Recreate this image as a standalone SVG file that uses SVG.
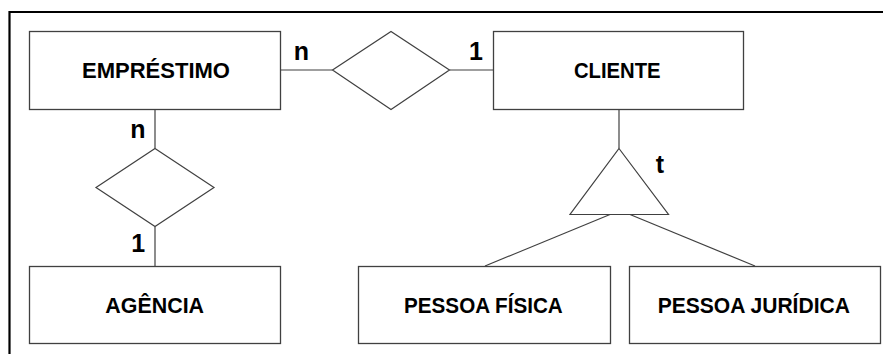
<svg xmlns="http://www.w3.org/2000/svg" width="883" height="354" viewBox="0 0 883 354">
<style>
.ent{fill:#fff;stroke:#404040;stroke-width:1.3}
.rel{fill:#fff;stroke:#404040;stroke-width:1.2}
.lbl{font-family:"Liberation Sans",Arial,sans-serif;font-weight:bold;font-size:22px;fill:#000;text-anchor:middle}
.card{font-family:"Liberation Sans",Arial,sans-serif;font-weight:bold;font-size:25px;fill:#000;text-anchor:middle}
.con{stroke:#404040;stroke-width:1.2;fill:none}
</style>
<rect x="0" y="0" width="883" height="354" fill="#fff"/>
<g id="frame">
<path d="M9.5 354 V12 H883" fill="none" stroke="#000" stroke-width="2.2"/>
</g>
<g id="connectors">
<line class="con" x1="280.5" y1="70" x2="332.5" y2="70"/>
<line class="con" x1="449.5" y1="70" x2="493.5" y2="70"/>
<line class="con" x1="155" y1="109.5" x2="155" y2="148.5"/>
<line class="con" x1="155" y1="226.5" x2="155" y2="266.5"/>
<line class="con" x1="619" y1="109.5" x2="619" y2="148.5"/>
<line class="con" x1="610" y1="214.5" x2="485" y2="266"/>
<line class="con" x1="630" y1="214.5" x2="755" y2="266"/>
</g>
<g id="emprestimo">
<rect class="ent" x="29.5" y="31.5" width="251" height="78"/>
<text class="lbl" x="156" y="78" textLength="148" lengthAdjust="spacingAndGlyphs">EMPRÉSTIMO</text>
</g>
<g id="cliente">
<rect class="ent" x="493.5" y="31.5" width="250" height="78"/>
<text class="lbl" x="617.3" y="78" textLength="86.7" lengthAdjust="spacingAndGlyphs">CLIENTE</text>
</g>
<g id="agencia">
<rect class="ent" x="29.5" y="266.5" width="251" height="77"/>
<text class="lbl" x="154.7" y="313.3" textLength="98.7" lengthAdjust="spacingAndGlyphs">AGÊNCIA</text>
</g>
<g id="pessoa-fisica">
<rect class="ent" x="358.5" y="266.5" width="252" height="77"/>
<text class="lbl" x="483.4" y="313.3" textLength="158.7" lengthAdjust="spacingAndGlyphs">PESSOA FÍSICA</text>
</g>
<g id="pessoa-juridica">
<rect class="ent" x="629.5" y="266.5" width="251" height="77"/>
<text class="lbl" x="753.8" y="313.3" textLength="192.3" lengthAdjust="spacingAndGlyphs">PESSOA JURÍDICA</text>
</g>
<g id="rel-emprestimo-cliente">
<polygon class="rel" points="332.5,70 391,31.5 449.5,70 391,109.5"/>
</g>
<g id="rel-emprestimo-agencia">
<polygon class="rel" points="155,148.5 214,187.5 155,226.5 96,187.5"/>
</g>
<g id="especializacao">
<polygon class="rel" points="619,148.5 668.5,214.5 570,214.5"/>
</g>
<g id="cardinalidades">
<text class="card" x="301.5" y="60">n</text>
<text class="card" x="476" y="59.5">1</text>
<text class="card" x="138" y="138.3">n</text>
<text class="card" x="138.3" y="251.7">1</text>
<text class="card" x="660" y="173">t</text>
</g>
</svg>
